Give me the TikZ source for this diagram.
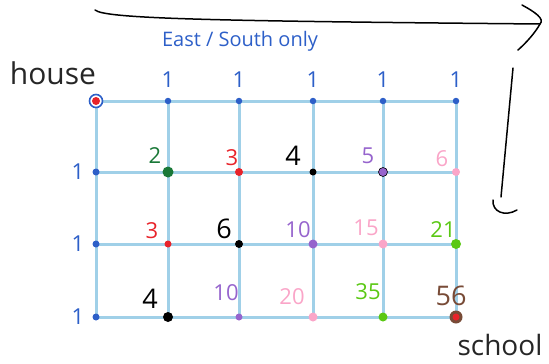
\documentclass[tikz,border=0pt]{standalone}
\usepackage{fontspec}
\setmainfont{Open Sans}
\definecolor{gridc}{RGB}{160,208,232}
\definecolor{penblue}{RGB}{45,95,200}
\definecolor{dotblue}{RGB}{45,95,200}
\definecolor{redc}{RGB}{232,35,42}
\definecolor{dgreen}{RGB}{25,120,55}
\definecolor{purp}{RGB}{150,100,205}
\definecolor{pinkc}{RGB}{250,165,200}
\definecolor{lime}{RGB}{90,200,20}
\definecolor{brownc}{RGB}{120,75,55}
\begin{document}
\begin{tikzpicture}[x=1pt,y=-1pt,
  gridline/.style={draw=gridc,line width=3pt},
  dot/.style={circle,inner sep=0pt,minimum size=#1},
  dot/.default=6pt,
  lab/.style={font=\fontsize{22}{22}\selectfont,inner sep=0pt},
  big/.style={font=\fontsize{27}{27}\selectfont},
  one/.style={font=\fontsize{22}{22}\selectfont,text=penblue,inner sep=0pt},
  pen/.style={draw=black,line width=1.5pt,line cap=round,line join=round}]
\useasboundingbox (0,0) rectangle (549,364);
% grid coordinates
\foreach \c/\x in {0/96,1/168,2/239,3/313,4/383,5/456}
  \foreach \r/\y in {0/101,1/172,2/244,3/317}
    \coordinate (p\c\r) at (\x,\y);
% grid lines
\foreach \r in {0,...,3} \draw[gridline] (p0\r) -- (p5\r);
\foreach \c in {0,...,5} \draw[gridline] (p\c0) -- (p\c3);
% dots
\node[dot=13pt,draw=dotblue,line width=1.6pt,fill=white] (house) at (p00) {};
\node[dot=8pt,fill=redc] (d00) at (p00) {};
\foreach \c in {1,...,5} \node[dot=6.5pt,fill=dotblue] (d\c0) at (p\c0) {};
\foreach \r in {1,2,3} \node[dot=7pt,fill=dotblue] (d0\r) at (p0\r) {};
\node[dot=11pt,fill=dgreen] (d11) at (p11) {};
\node[dot=8pt,fill=redc] (d21) at (p21) {};
\node[dot=7pt,fill=black] (d31) at (p31) {};
\node[dot=9pt,fill=purp,draw=black,line width=0.6pt] (d41) at (p41) {};
\node[dot=8pt,fill=pinkc] (d51) at (p51) {};
\node[dot=7pt,fill=redc] (d12) at (p12) {};
\node[dot=8pt,fill=black] (d22) at (p22) {};
\node[dot=9pt,fill=purp] (d32) at (p32) {};
\node[dot=9pt,fill=pinkc] (d42) at (p42) {};
\node[dot=10pt,fill=lime] (d52) at (p52) {};
\node[dot=10pt,fill=black] (d13) at (p13) {};
\node[dot=7pt,fill=purp] (d23) at (p23) {};
\node[dot=9pt,fill=pinkc] (d33) at (p33) {};
\node[dot=9pt,fill=lime] (d43) at (p43) {};
\node[dot=13pt,fill=brownc] (school) at (p53) {};
\node[dot=7pt,fill=redc] (d53) at (p53) {};
% top and left ones
\foreach \c in {1,...,5} \node[one] (t\c) at ([yshift=21pt]p\c0) {1};
\foreach \r in {1,2,3} \node[one] (l\r) at ([xshift=-18pt]p0\r) {1};
% values
\node[lab,text=dgreen] (v11) at (155,156) {2};
\node[lab,text=redc] (v21) at (232,158) {3};
\node[lab,big,text=black] (v31) at (293,156) {4};
\node[lab,text=purp] (v41) at (368,156) {5};
\node[lab,text=pinkc] (v51) at (442,159) {6};
\node[lab,text=redc] (v12) at (152,231) {3};
\node[lab,big,text=black] (v22) at (224,229) {6};
\node[lab,text=purp] (v32) at (298,230) {10};
\node[lab,text=pinkc] (v42) at (366,228) {15};
\node[lab,text=lime] (v52) at (443,230) {21};
\node[lab,big,text=black] (v13) at (150,299) {4};
\node[lab,text=purp] (v23) at (226,293) {10};
\node[lab,text=pinkc] (v33) at (292,297) {20};
\node[lab,text=lime] (v43) at (368,292) {35};
\node[lab,big,text=brownc] (v53) at (451,296) {56};
% labels
\node[font=\fontsize{30}{30}\selectfont,text=black!85,inner sep=0pt] (houselab) at (53,73) {house};
\node[font=\fontsize{28}{28}\selectfont,text=black!85,inner sep=0pt] (schoollab) at (500,345) {school};
\node[font=\fontsize{20}{20}\selectfont,text=penblue,inner sep=0pt] (rule) at (240,41) {East / South only};
% hand-drawn arrows
\coordinate (a1) at (95,10);
\coordinate (a2) at (540,24);
\draw[pen] (a1) .. controls (105,19) and (220,21) .. (a2);
\draw[pen] (522,5) .. controls (535,12) and (545,19) .. (a2) .. controls (535,33) and (526,43) .. (518,50);
\coordinate (b1) at (513,68);
\coordinate (b2) at (501,197);
\draw[pen] (b1) -- (b2);
\draw[pen] (493,200) .. controls (492,212) and (505,217) .. (517,210);
\end{tikzpicture}
\end{document}
